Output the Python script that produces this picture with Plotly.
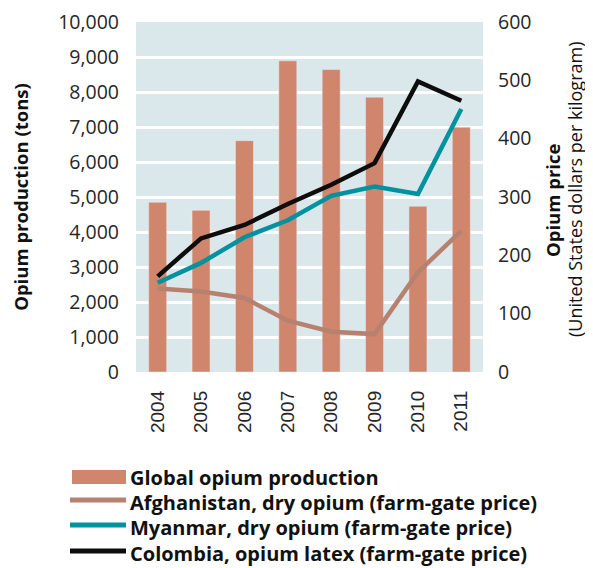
import plotly.graph_objects as go

years = ["2004", "2005", "2006", "2007", "2008", "2009", "2010", "2011"]
production = [4850, 4620, 6610, 8890, 8641, 7853, 4736, 6995]
afghanistan = [143, 138, 127, 88, 69, 65, 171, 242]
myanmar = [153, 187, 231, 260, 302, 318, 305, 451]
colombia = [164, 229, 252, 288, 321, 358, 498, 465]

left_ticks = [0, 1000, 2000, 3000, 4000, 5000, 6000, 7000, 8000, 9000, 10000]
left_labels = ["0", "1,000", "2,000", "3,000", "4,000", "5,000", "6,000", "7,000", "8,000", "9,000", "10,000"]
right_ticks = [0, 100, 200, 300, 400, 500, 600]

legend_names = ["Global opium production",
                "Afghanistan, dry opium (farm-gate price)",
                "Myanmar, dry opium (farm-gate price)",
                "Colombia, opium latex (farm-gate price)"]

C_BAR = "#d0856d"
C_AFG = "#b6826f"
C_MYA = "#00939f"
C_COL = "#0d0d0d"
TXT = "#262626"

OFF = 8  # browser body margin
W, H = 593 - OFF, 568 - OFF
ML, MT = 136 - OFF, 22 - OFF
PW, PH = 347, 350
MR = W - ML - PW
MB = H - MT - PH

def px(x):
    return (x - OFF - ML) / PW

def py(y):
    return (H - MB - (y - OFF)) / PH

fig = go.Figure()
fig.add_trace(go.Bar(x=years, y=production, marker_color=C_BAR, name=legend_names[0], yaxis="y"))
fig.add_trace(go.Scatter(x=years, y=afghanistan, mode="lines", line=dict(color=C_AFG, width=4.5), name=legend_names[1], yaxis="y2"))
fig.add_trace(go.Scatter(x=years, y=myanmar, mode="lines", line=dict(color=C_MYA, width=4.5), name=legend_names[2], yaxis="y2"))
fig.add_trace(go.Scatter(x=years, y=colombia, mode="lines", line=dict(color=C_COL, width=4.5), name=legend_names[3], yaxis="y2"))

# manual legend
shapes = []
annotations = []
rows = [477, 502, 527, 553]
colors = [C_BAR, C_AFG, C_MYA, C_COL]
for i, (ry, c, name) in enumerate(zip(rows, colors, legend_names)):
    if i == 0:
        shapes.append(dict(type="rect", xref="paper", yref="paper", x0=px(72), x1=px(126),
                           y0=py(ry - 7), y1=py(ry + 7), fillcolor=c, line=dict(width=0)))
    else:
        shapes.append(dict(type="line", xref="paper", yref="paper", x0=px(70), x1=px(126),
                           y0=py(ry - 2), y1=py(ry - 2), line=dict(color=c, width=5)))
    annotations.append(dict(text="<b>" + name + "</b>", xref="paper", yref="paper",
                            x=px(128), y=py(ry), xanchor="left", yanchor="middle",
                            showarrow=False, font=dict(family="Open Sans", size=20, color="#111111")))

# right axis title (two lines)
annotations.append(dict(text="<b>Opium price</b>", xref="paper", yref="paper", x=px(552), y=py(201),
                        xanchor="center", yanchor="middle", textangle=-90, showarrow=False,
                        font=dict(family="Open Sans", size=18.5, color="#111111")))
annotations.append(dict(text="(United States dollars per kilogram)", xref="paper", yref="paper",
                        x=px(575), y=py(190), xanchor="center", yanchor="middle", textangle=-90,
                        showarrow=False, font=dict(family="Open Sans", size=18, color="#111111")))

fig.update_layout(
    width=W, height=H,
    margin=dict(l=ML, r=MR, t=MT, b=MB, autoexpand=False),
    paper_bgcolor="white",
    plot_bgcolor="#dbe8eb",
    showlegend=False,
    bargap=0.585,
    font=dict(family="Open Sans", size=19, color=TXT),
    xaxis=dict(type="category", tickangle=-90, showgrid=False, zeroline=False, showline=False,
               ticks="", ticklabelstandoff=14, automargin=False, ticklabeloverflow="allow",
               tickfont=dict(family="Liberation Sans", size=19, color=TXT)),
    yaxis=dict(range=[0, 10000], tickvals=left_ticks, ticktext=left_labels,
               showgrid=True, gridcolor="white", gridwidth=3, zeroline=False, showline=False,
               ticks="", ticklabelstandoff=16, automargin=False, ticklabeloverflow="allow",
               tickfont=dict(family="Open Sans", size=19.5, color=TXT),
               title=dict(text="<b>Opium production (tons)</b>", standoff=38,
                          font=dict(family="Open Sans", size=18.5, color="#111111"))),
    yaxis2=dict(range=[0, 600], tickvals=right_ticks, overlaying="y", side="right",
                showgrid=False, zeroline=False, showline=False, ticks="", ticklabelstandoff=14,
                automargin=False, ticklabeloverflow="allow",
                tickfont=dict(family="Open Sans", size=19.5, color=TXT)),
    shapes=shapes,
    annotations=annotations,
)

fig.write_html("out.html")
